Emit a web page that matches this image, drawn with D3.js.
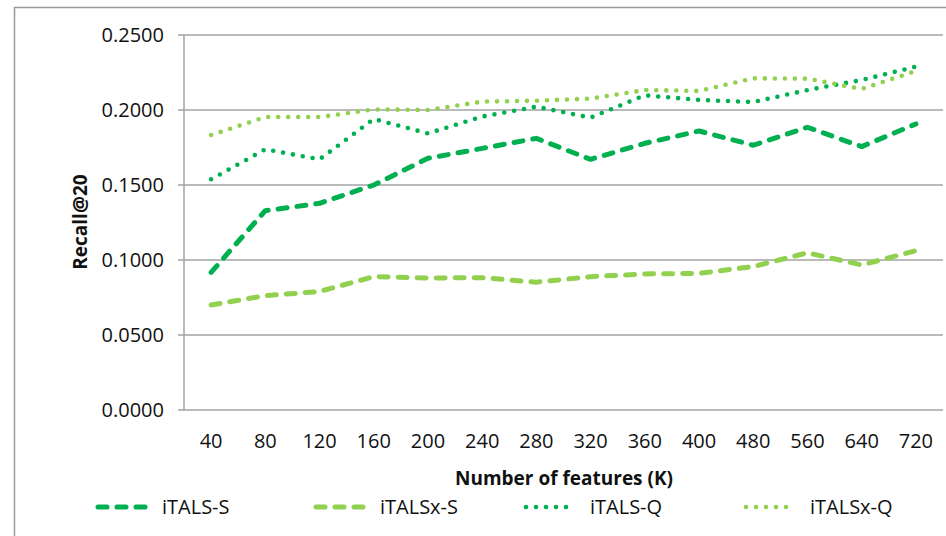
<!DOCTYPE html>
<html>
<head>
<meta charset="utf-8">
<script src="https://cdn.jsdelivr.net/npm/d3@7"></script>
<style>
  html, body { margin: 0; padding: 0; background: #fff; }
  svg { display: block; }
  text { font-family: "Open Sans", "DejaVu Sans", sans-serif; fill: #111; }
</style>
</head>
<body>
<svg id="chart" width="946" height="536"></svg>
<script>
const categories = ["40","80","120","160","200","240","280","320","360","400","480","560","640","720"];
const italsS  = [0.0918,0.1329,0.1378,0.1500,0.1678,0.1744,0.1811,0.1671,0.1778,0.1860,0.1765,0.1885,0.1756,0.1907];
const italsxS = [0.0700,0.0762,0.0790,0.0889,0.0880,0.0882,0.0852,0.0889,0.0907,0.0911,0.0956,0.1048,0.0967,0.1062];
const italsQ  = [0.1538,0.1738,0.1671,0.1940,0.1844,0.1956,0.2022,0.1949,0.2098,0.2067,0.2053,0.2133,0.2200,0.2289];
const italsxQ = [0.1833,0.1953,0.1953,0.2004,0.2000,0.2056,0.2062,0.2076,0.2133,0.2127,0.2211,0.2209,0.2140,0.2260];
const yTicks = [0, 0.05, 0.10, 0.15, 0.20, 0.25];
const seriesNames = ["iTALS-S","iTALSx-S","iTALS-Q","iTALSx-Q"];

const DARK = "#00b050", LIGHT = "#92d050";
const series = [
  {name: seriesNames[0], values: italsS,  color: DARK,  dash: "9 10", width: 5},
  {name: seriesNames[1], values: italsxS, color: LIGHT, dash: "9 10", width: 5},
  {name: seriesNames[2], values: italsQ,  color: DARK,  dash: "0 10", width: 4.6},
  {name: seriesNames[3], values: italsxQ, color: LIGHT, dash: "0 10", width: 4.6}
];

const svg = d3.select("#chart");
const mLeft = 184, mRight = 943, mTop = 35, mBottom = 410;

// outer frame
svg.append("path").attr("d", "M14.5,536 L14.5,7.5 L946,7.5")
  .attr("fill", "none").attr("stroke", "#9a9a9a").attr("stroke-width", 1.5);

const x = d3.scaleBand().domain(categories).range([mLeft, mRight]);
const y = d3.scaleLinear().domain([0, 0.25]).range([mBottom, mTop]);

// gridlines
svg.append("g").selectAll("line").data(yTicks).join("line")
  .attr("x1", mLeft - 6).attr("x2", mRight)
  .attr("y1", d => y(d)).attr("y2", d => y(d))
  .attr("stroke", "#a3a3a3").attr("stroke-width", 1.5);

// y axis line
svg.append("line").attr("x1", mLeft).attr("x2", mLeft).attr("y1", mTop).attr("y2", mBottom)
  .attr("stroke", "#a3a3a3").attr("stroke-width", 1.5);

// y tick labels
svg.append("g").selectAll("text").data(yTicks).join("text")
  .attr("x", 164).attr("y", d => y(d)).attr("dy", "0.36em")
  .attr("text-anchor", "end").attr("font-size", 20)
  .text(d => d3.format(".4f")(d));

// x tick labels
svg.append("g").selectAll("text").data(categories).join("text")
  .attr("x", d => x(d) + x.bandwidth() / 2).attr("y", 441).attr("dy", "0.36em")
  .attr("text-anchor", "middle").attr("font-size", 20)
  .text(d => d);

// axis titles
svg.append("text").attr("x", 564).attr("y", 478).attr("dy", "0.36em")
  .attr("text-anchor", "middle").attr("font-size", 19).attr("font-weight", "bold")
  .text("Number of features (K)");
svg.append("text").attr("transform", "translate(80,222) rotate(-90)").attr("dy", "0.36em")
  .attr("text-anchor", "middle").attr("font-size", 19).attr("font-weight", "bold")
  .text("Recall@20");

// lines
const line = d3.line().x((d, i) => x(categories[i]) + x.bandwidth() / 2).y(d => y(d));
svg.append("g").selectAll("path").data(series).join("path")
  .attr("d", d => line(d.values))
  .attr("fill", "none").attr("stroke", d => d.color)
  .attr("stroke-width", d => d.width).attr("stroke-dasharray", d => d.dash)
  .attr("stroke-linecap", "round").attr("stroke-linejoin", "round");

// legend
const legendX = [96, 314, 524, 744];
const lg = svg.append("g").selectAll("g").data(series).join("g")
  .attr("transform", (d, i) => `translate(${legendX[i]},507)`);
lg.append("line").attr("x1", 2).attr("x2", 50).attr("y1", 0).attr("y2", 0)
  .attr("stroke", d => d.color).attr("stroke-width", d => d.width)
  .attr("stroke-dasharray", d => d.dash).attr("stroke-linecap", "round");
lg.append("text").attr("x", 66).attr("y", 0).attr("dy", "0.36em")
  .attr("font-size", 20).text(d => d.name);
</script>
</body>
</html>
